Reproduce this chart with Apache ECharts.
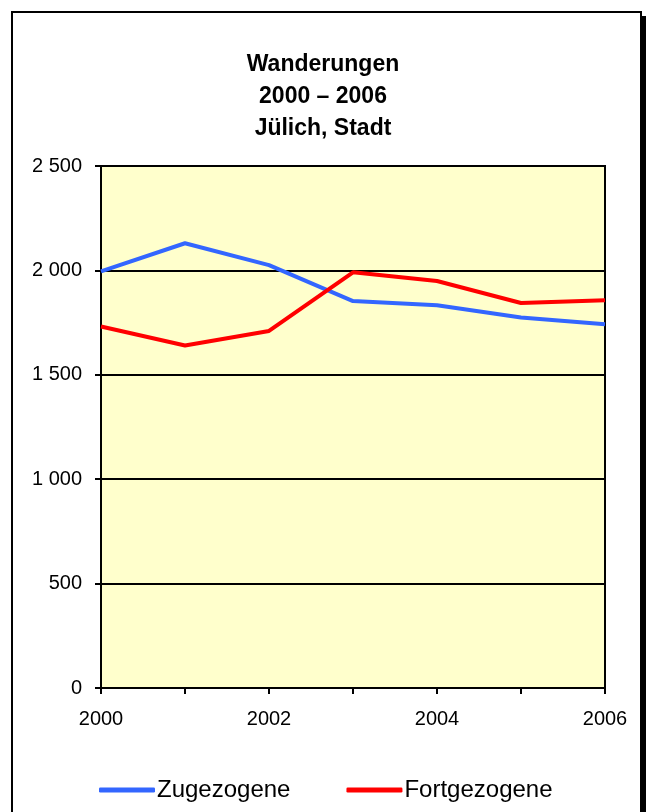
<!DOCTYPE html>
<html>
<head>
<meta charset="utf-8">
<script src="https://cdn.jsdelivr.net/npm/echarts@6/dist/echarts.min.js"></script>
<style>
    html, body { margin: 0; padding: 0; background: #fff; }
    #chart { width: 646px; height: 812px; }
</style>
</head>
<body>
<div id="chart"></div>
<script>
// Data
const years = ['2000', '2001', '2002', '2003', '2004', '2005', '2006'];
const zugezogene = [1995, 2130, 2025, 1853, 1833, 1774, 1742];
const fortgezogene = [1731, 1640, 1710, 1991, 1949, 1844, 1857];
const titleLines = ['Wanderungen', '2000 – 2006', 'Jülich, Stadt'];

const FONT = 'Liberation Sans, Arial, sans-serif';

const chart = echarts.init(document.getElementById('chart'));

const option = {
    backgroundColor: '#fff',
    animation: false,
    textStyle: { fontFamily: FONT },
    graphic: [
        // frame shadow
        { type: 'rect', z: -100, shape: { x: 17, y: 16, width: 640, height: 820 }, style: { fill: '#000' } },
        // frame
        { type: 'rect', z: -99, shape: { x: 12, y: 12, width: 629, height: 830 }, style: { fill: '#fff', stroke: '#000', lineWidth: 2 } }
    ],
    title: {
        text: titleLines.join('\n'),
        left: 'center',
        top: 44,
        textStyle: {
            fontFamily: FONT,
            fontSize: 23,
            fontWeight: 'bold',
            color: '#000',
            lineHeight: 32
        }
    },
    legend: {
        left: 94,
        top: 773,
        itemGap: 56,
        itemWidth: 56,
        itemHeight: 5,
        icon: 'roundRect',
        textStyle: { fontFamily: FONT, fontSize: 24, color: '#000', padding: [0, 0, 0, -3] },
        data: ['Zugezogene', 'Fortgezogene']
    },
    grid: {
        left: 101,
        right: 41,
        top: 166,
        bottom: 124,
        show: true,
        backgroundColor: '#FFFFCC',
        borderColor: '#000',
        borderWidth: 2
    },
    xAxis: {
        type: 'category',
        data: years,
        boundaryGap: false,
        axisLine: { lineStyle: { color: '#000', width: 2 } },
        axisTick: { show: true, interval: 0, length: 6, lineStyle: { color: '#000', width: 2 } },
        axisLabel: { interval: 1, margin: 21, fontSize: 20, color: '#000', fontFamily: FONT },
        splitLine: { show: false }
    },
    yAxis: {
        type: 'value',
        min: 0,
        max: 2500,
        interval: 500,
        axisLine: { show: true, lineStyle: { color: '#000', width: 2 } },
        axisTick: { show: true, length: 6, lineStyle: { color: '#000', width: 2 } },
        axisLabel: {
            margin: 19,
            fontSize: 20,
            color: '#000',
            fontFamily: FONT,
            formatter: v => String(v).replace(/\B(?=(\d{3})+(?!\d))/g, ' ')
        },
        splitLine: { show: true, lineStyle: { color: '#000', width: 2 } }
    },
    series: [
        {
            name: 'Zugezogene',
            type: 'line',
            data: zugezogene,
            symbol: 'none',
            lineStyle: { color: '#3366FF', width: 4 },
            itemStyle: { color: '#3366FF' }
        },
        {
            name: 'Fortgezogene',
            type: 'line',
            data: fortgezogene,
            symbol: 'none',
            lineStyle: { color: '#FF0000', width: 4 },
            itemStyle: { color: '#FF0000' }
        }
    ]
};

chart.setOption(option);
</script>
</body>
</html>
